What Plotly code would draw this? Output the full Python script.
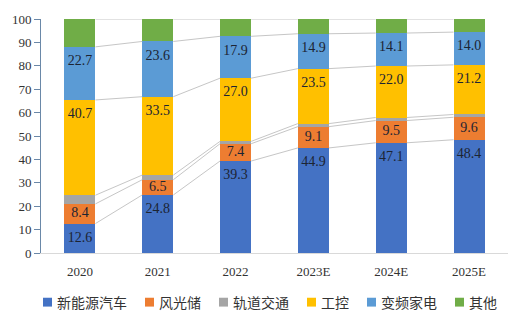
import plotly.graph_objects as go

years = ["2020", "2021", "2022", "2023E", "2024E", "2025E"]
series_names = ["新能源汽车", "风光储", "轨道交通", "工控", "变频家电", "其他"]
ev = [12.6, 24.8, 39.3, 44.9, 47.1, 48.4]
pv_storage = [8.4, 6.5, 7.4, 9.1, 9.5, 9.6]
rail = [3.7, 2.0, 1.0, 1.3, 1.3, 1.2]
industrial = [40.7, 33.5, 27.0, 23.5, 22.0, 21.2]
appliance = [22.7, 23.6, 17.9, 14.9, 14.1, 14.0]
other = [11.9, 9.6, 7.4, 6.3, 6.0, 5.6]

values = [ev, pv_storage, rail, industrial, appliance, other]
colors = ["#4472C4", "#ED7D31", "#A5A5A5", "#FFC000", "#5B9BD5", "#70AD47"]
labelled = [True, True, False, True, True, False]

W, H = 526, 323
M = dict(l=41, r=18, t=15, b=70)
bar_width = 0.4
xs = list(range(len(years)))
y_max = 100
px_per_unit = (H - M["t"] - M["b"]) / y_max
label_drop = 15 / px_per_unit  # labels sit ~15px under the segment top

fig = go.Figure()

# Series lines joining the top of each segment between neighbouring bars
bottoms = [0.0] * len(years)
line_x, line_y = [], []
lab_x, lab_y, lab_t = [], [], []
for vals, lab in zip(values, labelled):
    tops = [b + v for b, v in zip(bottoms, vals)]
    for i in range(len(years) - 1):
        line_x += [i + bar_width / 2, i + 1 - bar_width / 2, None]
        line_y += [tops[i], tops[i + 1], None]
    if lab:
        for i, v in enumerate(vals):
            lab_x.append(i)
            lab_y.append(max(tops[i] - label_drop, bottoms[i] + v / 2))
            lab_t.append(f"{v:.1f}")
    bottoms = tops

fig.add_trace(go.Scatter(x=line_x, y=line_y, mode="lines",
                         line=dict(color="#c6c6c6", width=1),
                         showlegend=False, hoverinfo="skip"))

for name, vals, color in zip(series_names, values, colors):
    fig.add_trace(go.Bar(
        x=xs, y=vals, name=name, width=bar_width,
        marker=dict(color=color, line=dict(width=0)),
        showlegend=False,
    ))

# Value labels inside the segments
fig.add_trace(go.Scatter(
    x=lab_x, y=lab_y, text=lab_t, mode="text", textposition="middle center",
    textfont=dict(family="Liberation Serif", size=14, color="#1c2433"),
    showlegend=False, hoverinfo="skip", cliponaxis=False,
))

# Legend row: colour square followed by the series name
legend_y = 303
x = 43
sq = 9
for name, color in zip(series_names, colors):
    fig.add_shape(type="rect", xref="paper", yref="paper",
                  x0=(x - M["l"]) / (W - M["l"] - M["r"]),
                  x1=(x + sq - M["l"]) / (W - M["l"] - M["r"]),
                  y0=(H - M["b"] - legend_y - sq / 2) / (H - M["t"] - M["b"]),
                  y1=(H - M["b"] - legend_y + sq / 2) / (H - M["t"] - M["b"]),
                  fillcolor=color, line=dict(width=0))
    tx = x + sq + 3
    fig.add_annotation(text=name, xref="paper", yref="paper",
                       x=(tx - M["l"]) / (W - M["l"] - M["r"]),
                       y=(H - M["b"] - legend_y) / (H - M["t"] - M["b"]),
                       xanchor="left", yanchor="middle", showarrow=False,
                       font=dict(family="Noto Sans CJK SC", size=14, color="#333333"))
    x = tx + 14 * len(name) + 20

fig.update_layout(
    barmode="stack",
    width=W, height=H,
    margin=M,
    paper_bgcolor="white", plot_bgcolor="white",
    showlegend=False,
    font=dict(family="Liberation Serif", size=13, color="#333333"),
    xaxis=dict(tickmode="array", tickvals=xs, ticktext=years,
               range=[-0.5, len(years) - 0.5], showline=True,
               linecolor="#d9d9d9", linewidth=1, ticks="", showgrid=False,
               zeroline=False, ticklabelstandoff=6,
               tickfont=dict(size=13, color="#333333")),
    yaxis=dict(range=[0, y_max], dtick=10, showline=True, linecolor="#6a88a8",
               linewidth=1, ticks="outside", tickcolor="#6a88a8", ticklen=6,
               showgrid=False, zeroline=False,
               tickfont=dict(size=13, color="#333333")),
)

fig.write_html("out.html")
